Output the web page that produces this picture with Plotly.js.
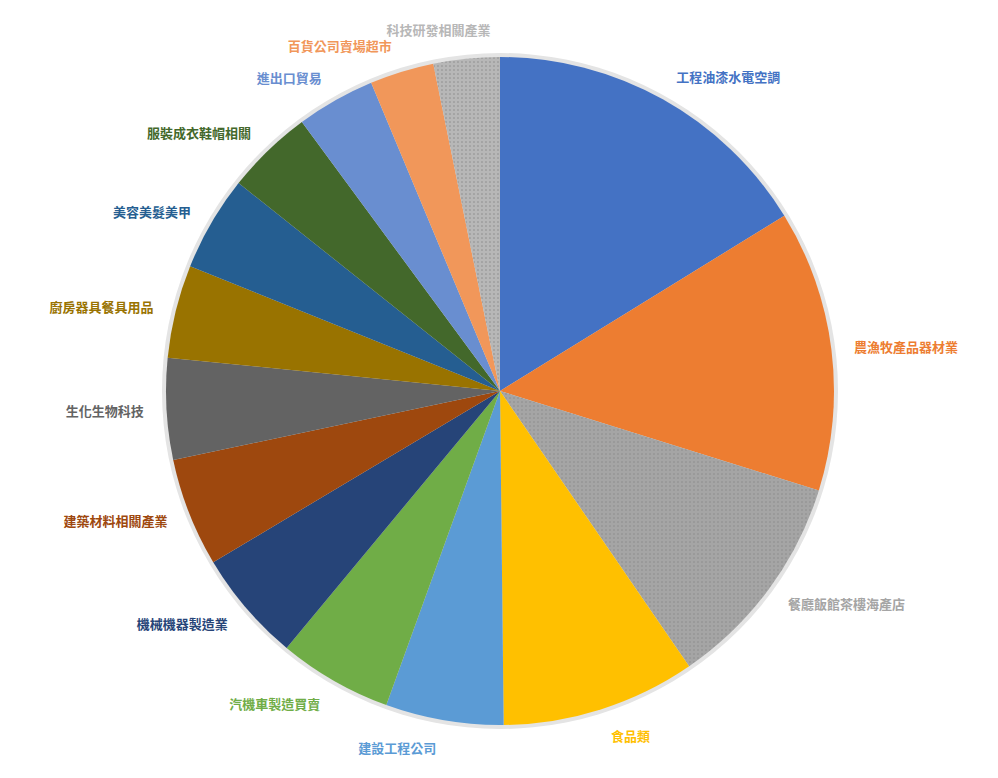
<!DOCTYPE html>
<html>
<head>
<meta charset="utf-8">
<script src="https://cdn.plot.ly/plotly-3.0.1.min.js"></script>
<style>html,body{margin:0;padding:0;background:#fff;}#chart{width:998px;height:778px;}</style>
</head>
<body>
<div id="chart"></div>
<script>
const categories = ["工程油漆水電空調","農漁牧產品器材業","餐廳飯館茶樓海產店","食品類","建設工程公司","汽機車製造買賣","機械機器製造業","建築材料相關產業","生化生物科技","廚房器具餐具用品","美容美髮美甲","服裝成衣鞋帽相關","進出口貿易","百貨公司賣場超市","科技研發相關產業"];
const values = [16.2, 13.6, 10.6, 9.4, 5.7, 5.5, 5.4, 5.25, 4.9, 4.5, 4.6, 4.2, 3.8, 3.1, 3.2];
const colors = ["#4472C4","#ED7D31","#A5A5A5","#FFC000","#5B9BD5","#70AD47","#264478","#9E480E","#636363","#997300","#255E91","#43682B","#698ED0","#F1975A","#B7B7B7"];
const dotted = [false,false,true,false,false,false,false,false,false,false,false,false,false,false,true];

const W = 998, H = 778, cx = 500, cy = 391;
const R = 334, RS = 338, RL = 352;
const inS = (RL - RS) / (2 * RL), inM = (RL - R) / (2 * RL);
const last = categories.length - 1;

const shadow = {
  type: 'pie', values: [1], labels: ['shadow'], sort: false,
  marker: {colors: ['#e4e4e4']}, textinfo: 'none', hoverinfo: 'skip',
  showlegend: false, domain: {x: [inS, 1 - inS], y: [inS, 1 - inS]}
};
const main = {
  type: 'pie', values: values, labels: categories, sort: false,
  direction: 'clockwise', rotation: 0,
  marker: {
    colors: colors,
    line: {width: 0},
    pattern: {
      shape: dotted.map(d => d ? '.' : ''),
      fgcolor: dotted.map(d => d ? '#8a8a8a' : '#000'),
      bgcolor: colors,
      size: 4, solidity: 0.12, fillmode: 'replace'
    }
  },
  textinfo: 'none', hoverinfo: 'label+percent',
  showlegend: false,
  domain: {x: [inM, 1 - inM], y: [inM, 1 - inM]}
};
function labelRing(showIdx, rot) {
  return {
    type: 'pie', values: values, labels: categories, sort: false,
    direction: 'clockwise', rotation: rot,
    text: categories.map((c, i) => showIdx(i) ? c : ''),
    marker: {colors: categories.map(() => 'rgba(0,0,0,0)'), line: {width: 0}},
    textinfo: 'text', textposition: 'outside',
    outsidetextfont: {family: '"Noto Sans CJK TC", sans-serif', size: 13, color: colors, weight: 'bold'},
    hoverinfo: 'skip', showlegend: false,
    domain: {x: [0, 1], y: [0, 1]}
  };
}
const ringA = labelRing(i => i !== last, 0);
const ringB = labelRing(i => i === last, 5);
const layout = {
  width: W, height: H,
  margin: {l: cx - RL, r: W - cx - RL, t: cy - RL, b: H - cy - RL, pad: 0},
  paper_bgcolor: '#fff', plot_bgcolor: '#fff', showlegend: false
};
Plotly.newPlot('chart', [shadow, main, ringA, ringB], layout, {displayModeBar: false});
</script>
</body>
</html>
